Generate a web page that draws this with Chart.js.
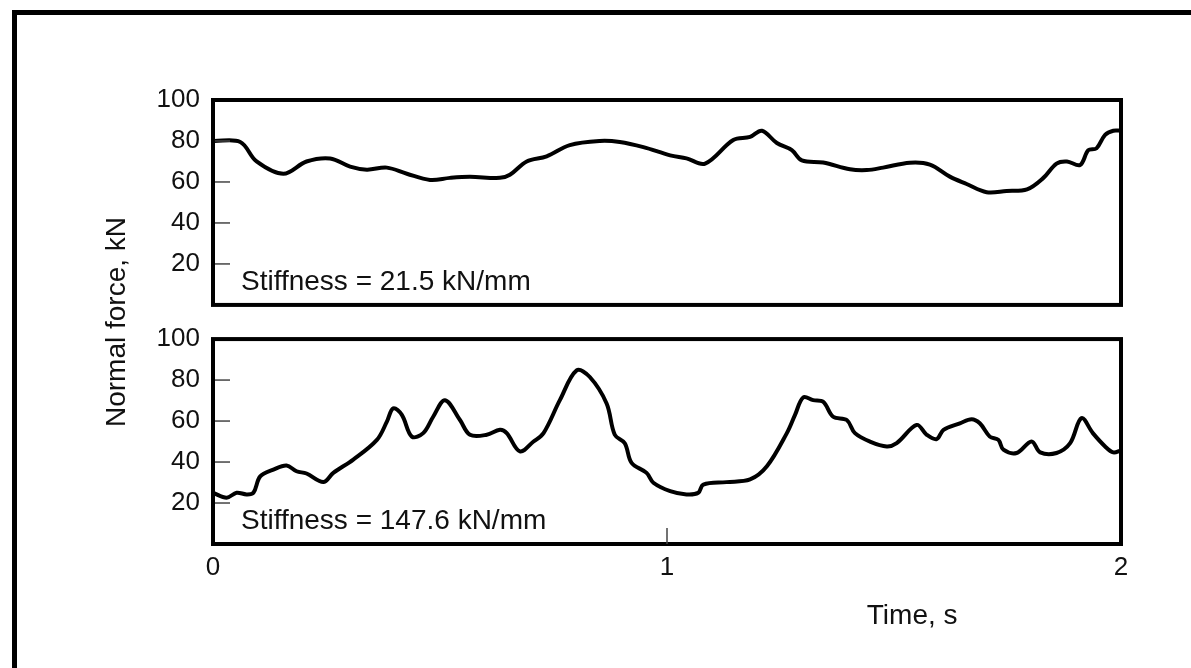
<!DOCTYPE html>
<html>
<head>
<meta charset="utf-8">
<script src="https://cdn.jsdelivr.net/npm/chart.js@4.4.1/dist/chart.umd.min.js"></script>
<style>
  html, body { margin: 0; padding: 0; background: #fff; overflow: hidden; }
  #wrap { position: relative; width: 1191px; height: 668px; overflow: hidden; }
  #frame { position: absolute; left: 12px; top: 10px; width: 1300px; height: 800px;
           border-left: 5px solid #000; border-top: 5px solid #000; }
  canvas { position: absolute; left: 0; top: 0; }
</style>
</head>
<body>
<div id="wrap">
  <div id="frame"></div>
  <canvas id="forceChart" width="1191" height="668"></canvas>
</div>
<script>
// time (s) and normal force (kN)
const topTime = [0.00, 0.06, 0.096, 0.155, 0.206, 0.258, 0.302, 0.339, 0.383, 0.427, 0.478, 0.522, 0.566, 0.632,
  0.654, 0.691, 0.735, 0.786, 0.852, 0.896, 0.948, 1.007, 1.043, 1.084, 1.146, 1.183, 1.209, 1.242, 1.275, 1.297,
  1.344, 1.403, 1.44, 1.476, 1.535, 1.579, 1.623, 1.66, 1.704, 1.748, 1.793, 1.829, 1.858, 1.881, 1.91, 1.928,
  1.946, 1.965, 1.983, 2.0];
const topForce = [80, 79.5, 70, 64, 70, 71.5, 67.5, 66, 67, 64, 61, 62, 62.5, 62,
  63.5, 70, 72.5, 78, 80, 79.5, 77, 73, 71.5, 69, 80.5, 82, 85, 79, 75.5, 70.5,
  69.5, 66.2, 65.8, 67, 69.4, 68.5, 62.6, 59, 55, 55.6, 56.4, 62, 69, 70, 68.3, 75.5,
  76.4, 83, 85, 85];

const bottomTime = [0.00, 0.03, 0.052, 0.074, 0.089, 0.104, 0.133, 0.162, 0.184, 0.206, 0.243, 0.265, 0.309, 0.361,
  0.383, 0.397, 0.416, 0.438, 0.463, 0.485, 0.511, 0.544, 0.566, 0.603, 0.632, 0.647, 0.676, 0.706, 0.728, 0.764,
  0.801, 0.83, 0.867, 0.885, 0.907, 0.922, 0.955, 0.97, 1.007, 1.043, 1.069, 1.08, 1.131, 1.183, 1.22, 1.264,
  1.282, 1.3, 1.322, 1.344, 1.366, 1.396, 1.414, 1.447, 1.484, 1.506, 1.55, 1.572, 1.594, 1.609, 1.645, 1.671,
  1.689, 1.711, 1.73, 1.741, 1.77, 1.803, 1.822, 1.858, 1.888, 1.913, 1.938, 1.965, 1.983, 2.0];
const bottomForce = [25, 22.6, 25, 24.2, 25, 33, 36.3, 38.3, 35.5, 34.4, 30.2, 34.7, 41.2, 50.8,
  59.7, 66.2, 63, 52.4, 54.1, 62.1, 70.2, 60.5, 53.3, 53.3, 55.7, 54.1, 45.2, 50, 54.1, 70.2,
  84.7, 81.5, 68.6, 53.3, 49.2, 39.6, 34.7, 29.9, 25.8, 24.2, 25, 29, 30.2, 31.5, 37.9, 54.1,
  63, 71.5, 70.2, 69.4, 62.1, 60.5, 54.1, 50, 47.6, 49.2, 58.1, 53.3, 51.2, 55.7, 58.9, 60.9,
  58.9, 52.4, 50.8, 46, 44.4, 50, 44.7, 44.4, 49.2, 61.4, 54.1, 47.6, 44.7, 45.7];

const forceTicks = [20, 40, 60, 80, 100];
const timeTicks = [0, 1, 2];
const stiffnessLabels = ['Stiffness = 21.5 kN/mm', 'Stiffness = 147.6 kN/mm'];
const yTitle = 'Normal force, kN';
const xTitle = 'Time, s';

const FONT = '"Liberation Sans", Arial, sans-serif';
Chart.defaults.font.family = FONT;
Chart.defaults.font.size = 26;
Chart.defaults.color = '#111';

const toPoints = (t, f) => t.map((v, i) => ({ x: v, y: f[i] }));

// frame boxes, inner tick marks and the text inside the panels
const panelFrames = {
  id: 'panelFrames',
  afterDatasetsDraw(chart) {
    const { ctx, chartArea, scales } = chart;
    const xs = scales.x;
    ctx.save();
    ['yTop', 'yBot'].forEach((id, i) => {
      const s = scales[id];
      ctx.strokeStyle = '#444';
      ctx.lineWidth = 1.5;
      forceTicks.forEach(v => {
        if (v >= s.max) return;
        const py = s.getPixelForValue(v);
        ctx.beginPath();
        ctx.moveTo(chartArea.left, py);
        ctx.lineTo(chartArea.left + 17, py);
        ctx.stroke();
      });
      ctx.strokeStyle = '#000';
      ctx.lineWidth = 4;
      ctx.strokeRect(chartArea.left, s.top, chartArea.right - chartArea.left, s.bottom - s.top);
      ctx.fillStyle = '#111';
      ctx.font = '28px ' + FONT;
      ctx.textAlign = 'left';
      ctx.textBaseline = 'alphabetic';
      ctx.fillText(stiffnessLabels[i], chartArea.left + 28, s.bottom - 15);
    });

    const yb = scales.yBot;
    const px = xs.getPixelForValue(1);
    ctx.strokeStyle = '#444';
    ctx.lineWidth = 1.5;
    ctx.beginPath();
    ctx.moveTo(px, yb.bottom);
    ctx.lineTo(px, yb.bottom - 16);
    ctx.stroke();

    ctx.textAlign = 'center';
    ctx.fillText(xTitle, xs.getPixelForValue(1.54), chartArea.bottom + 80);
    ctx.restore();
  }
};

const forceAxis = (weight) => ({
  type: 'linear',
  position: 'left',
  stack: 'force',
  stackWeight: 6,
  weight: weight,
  min: 0,
  max: 100,
  afterBuildTicks: s => { s.ticks = forceTicks.map(v => ({ value: v })); },
  ticks: { padding: 13, autoSkip: false },
  grid: { display: false, drawTicks: false },
  border: { display: false },
  afterFit: s => { s.width = 120; }
});

const lineStyle = {
  borderColor: '#000',
  borderWidth: 4,
  pointRadius: 0,
  tension: 0.35,
  borderCapStyle: 'round',
  borderJoinStyle: 'round',
  fill: false
};

new Chart('forceChart', {
  type: 'line',
  data: {
    datasets: [
      Object.assign({ label: stiffnessLabels[0], data: toPoints(topTime, topForce), yAxisID: 'yTop' }, lineStyle),
      Object.assign({ label: stiffnessLabels[1], data: toPoints(bottomTime, bottomForce), yAxisID: 'yBot' }, lineStyle)
    ]
  },
  options: {
    responsive: false,
    animation: false,
    layout: { padding: { left: 93, right: 70, top: 100, bottom: 84 } },
    plugins: { legend: { display: false }, tooltip: { enabled: false } },
    scales: {
      x: {
        type: 'linear',
        position: 'bottom',
        min: 0,
        max: 2,
        afterBuildTicks: s => { s.ticks = timeTicks.map(v => ({ value: v })); },
        ticks: { padding: 8, autoSkip: false, maxRotation: 0 },
        grid: { display: false, drawTicks: false },
        border: { display: false },
        afterFit: s => { s.height = 40; }
      },
      yTop: forceAxis(3),
      yGap: {
        type: 'linear',
        position: 'left',
        stack: 'force',
        stackWeight: 1,
        weight: 2,
        min: 0,
        max: 1,
        ticks: { display: false },
        grid: { display: false, drawTicks: false },
        border: { display: false },
        title: { display: true, text: yTitle, font: { size: 28 }, padding: { top: 7, bottom: 0 } },
        afterFit: s => { s.width = 120; }
      },
      yBot: forceAxis(1)
    }
  },
  plugins: [panelFrames]
});
</script>
</body>
</html>
